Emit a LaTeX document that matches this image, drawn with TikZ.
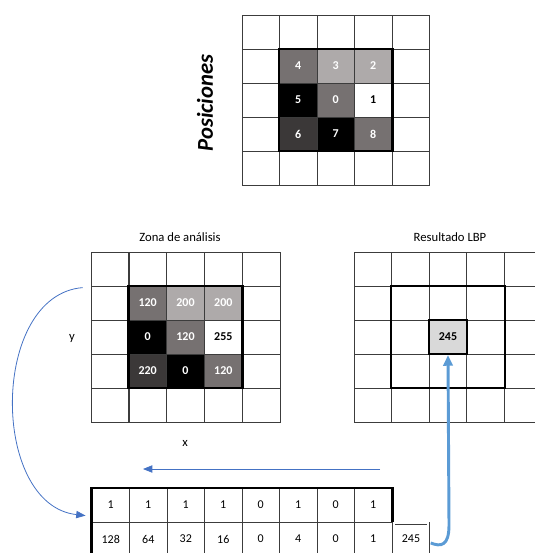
\documentclass[tikz,border=0pt]{standalone}
\usepackage{fontspec}
\setmainfont{Carlito}
\usetikzlibrary{arrows.meta}
\definecolor{gmid}{RGB}{118,113,113}
\definecolor{glight}{RGB}{174,170,170}
\definecolor{gdark}{RGB}{59,56,56}
\definecolor{gridc}{RGB}{60,60,60}
\definecolor{arrblue}{RGB}{68,114,196}
\definecolor{thickblue}{RGB}{91,155,213}
\definecolor{resgray}{RGB}{217,217,217}
\tikzset{
  cell/.style={draw=gridc, line width=0.6pt, minimum width=28.2pt, minimum height=25.5pt,
    inner sep=0pt, font=\fontsize{9}{10}\selectfont\bfseries, text=white},
  plaincell/.style={cell, font=\fontsize{9}{10}\selectfont, text=black},
  thickline/.style={line width=1.6pt, draw=black},
  title/.style={font=\fontsize{9.5}{11}\selectfont, text=black, inner sep=0pt},
  thinarrow/.style={draw=arrblue, line width=0.6pt, -{Triangle[length=7pt,width=5.5pt]}},
  bigarrow/.style={draw=thickblue, line width=2.2pt, -{Triangle[length=8pt,width=7pt]}}
}
\begin{document}
\begin{tikzpicture}[x=0.75pt,y=-0.75pt]
\useasboundingbox (0,0) rectangle (535,553);
\clip (0,0) rectangle (535,553);
% ---------- Posiciones grid ----------
\foreach \r in {0,...,4}{\foreach \c in {0,...,4}{
  \node[cell] (P\r\c) at ({242+37.5*\c+18.75},{15+34*\r+17}) {};
}}
\foreach \r/\c/\f/\t/\tc in {1/1/gmid/4/white,1/2/glight/3/white,1/3/glight/2/white,
  2/1/black/5/white,2/2/gmid/0/white,2/3/white/1/black,
  3/1/gdark/6/white,3/2/black/7/white,3/3/gmid/8/white}{
  \node[cell, fill=\f, text=\tc] (PV\r\c) at (P\r\c) {\t};
}
\draw[thickline] (P11.north west) rectangle (P33.south east);
\node[font=\fontsize{17}{20}\selectfont\bfseries\itshape, rotate=90, inner sep=0pt] (pos) at (205,103) {Posiciones};
% ---------- Zona de analisis ----------
\node[title] (tz) at (180,237) {Zona de análisis};
\foreach \r in {0,...,4}{\foreach \c in {0,...,4}{
  \node[cell] (Z\r\c) at ({91+37.8*\c+18.9},{252+34*\r+17}) {};
}}
\foreach \r/\c/\f/\t/\tc in {1/1/gmid/120/white,1/2/glight/200/white,1/3/glight/200/white,
  2/1/black/0/white,2/2/gmid/120/white,2/3/white/255/black,
  3/1/gdark/220/white,3/2/black/0/white,3/3/gmid/120/white}{
  \node[cell, fill=\f, text=\tc] (ZV\r\c) at (Z\r\c) {\t};
}
\draw[thickline] (Z11.north west) rectangle (Z33.south east);
\node[title] (lx) at (185,443) {x};
\node[title] (ly) at (72,338) {y};
% ---------- Resultado LBP ----------
\node[title] (tr) at (450,237) {Resultado LBP};
\foreach \r in {0,...,4}{\foreach \c in {0,...,4}{
  \node[cell] (R\r\c) at ({354+37.6*\c+18.8},{252+34*\r+17}) {};
}}
\draw[thickline] (R11.north west) rectangle (R33.south east);
\node[cell, fill=resgray, text=black, draw=black, line width=1.6pt] (RV) at (R22) {245};
% ---------- Bottom table ----------
\foreach \c/\t in {0/1,1/1,2/1,3/1,4/0,5/1,6/0,7/1}{
  \node[plaincell] (B0\c) at ({92+37.5*\c+18.75},{488+17}) {\t};
}
\foreach \c/\t in {0/128,1/64,2/32,3/16,4/0,5/4,6/0,7/1}{
  \node[plaincell] (B1\c) at ({92+37.5*\c+18.75},{522+17}) {\t};
}
\draw[thickline] (B10.south west) -- (B00.north west) -- (B07.north east) -- (B07.south east);
\node[plaincell, draw=gridc, double=white, double distance=1.4pt, minimum width=26pt, minimum height=23.5pt] (BR) at ({392+19},{522+17}) {245};
% ---------- Connectors ----------
\coordinate (la1) at (380,469);
\coordinate (la2) at (143,469);
\draw[thinarrow] (la1) -- (la2);
\draw[thinarrow] ([xshift=-6pt,yshift=-1.5pt]Z10.north west) .. controls (-10,295) and (-10,505) .. ([xshift=-4.5pt,yshift=4.5pt]B10.north west);
\draw[bigarrow] ([xshift=1.5pt,yshift=-3pt]BR.east) .. controls (441,547) and (449,546) .. (449,525) -- (RV.south);
\end{tikzpicture}
\end{document}
